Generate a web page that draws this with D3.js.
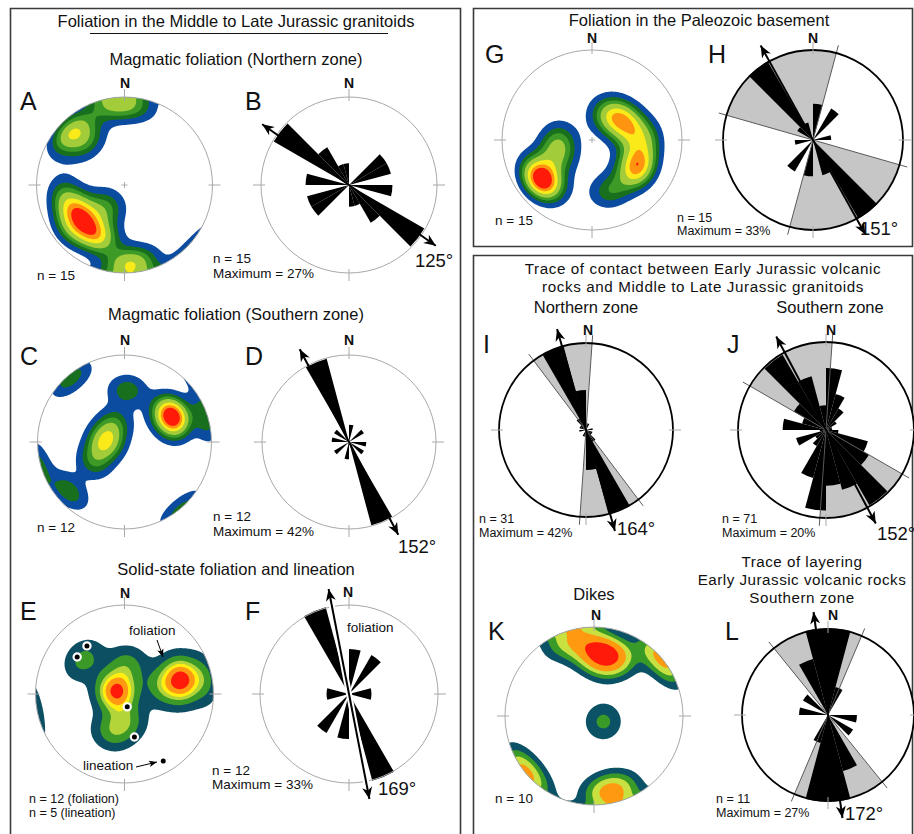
<!DOCTYPE html>
<html><head><meta charset="utf-8">
<script src="https://cdn.jsdelivr.net/npm/d3@7"></script>
<style>
body{margin:0;background:#fff}
svg{display:block;font-family:"Liberation Sans",Arial,Helvetica,sans-serif}
</style></head><body>
<svg id="fig" width="914" height="834"></svg>
<script>
// ---------------- data ----------------
// Rose-diagram bin starts (degrees, 15° bins)
const binStarts = [0,15,30,45,60,75,90,105,120,135,150,165,180,195,210,225,240,255,270,285,300,315,330,345];

// Rose counts per bin (bidirectional strike data)
const roseB = [0,0,0,2,2,0,2,0,4,2,1,1, 0,0,0,2,2,0,2,0,4,2,1,1];
const roseD = [1,0,0,1,0,0,1,0,1,0,5,0, 1,0,0,1,0,0,1,0,1,0,5,0];
const roseF = [2,0,2,0,0,1,1,0,0,0,4,0, 2,0,2,0,0,1,1,0,0,0,4,0];
const roseH = [2,0,2,0,0,1,0,0,0,5,2,0, 2,0,2,0,0,1,0,0,1,5,1,0];
const roseI = [1,1,0,0,0,1,0,1,1,2,13,6, 1,1,0,0,0,1,0,1,1,2,13,6];
const roseJ = [10,6,4,2,1,1,2,7,8,14,10,9, 13,8,3,2,5,1,7,4,6,14,9,4];
const roseL = [3,1,0,0,0,0,1,0,1,0,2,3, 3,1,0,0,0,0,1,0,1,0,2,3];

// Sample sizes, maximum petal (%), mean direction (°)
const roseN    = {B:15, D:12, F:12, H:15, I:31, J:71, L:11};
const roseMax  = {B:27, D:42, F:33, H:33, I:42, J:20, L:27};
const roseMean = {B:125, D:152, F:169, H:151, I:164, J:152, L:172};
// Shaded range sectors [from, to] (° clockwise), mirrored through the centre
const sectorH = [286, 15];
const sectorI = [323, 4];
const sectorJ = [300, 4];
const sectorL = [321, 23];

// Poles to foliation / dikes [trend, plunge] (lower hemisphere)
const polesA = [[319,17],[318,34],[310,15],[350,10],[5,12],[225,37],[236,42],[243,38],[258,30],[210,38],[219,64],[231,21],[206,32],[179,11],[172,15]];
const polesC = [[62,40],[65,38],[59,41],[61,35],[73,4],[275,71],[265,73],[329,71],[238,56],[3,40],[320,4],[228,16]];
const polesE = [[76,35],[78,38],[74,31],[78,54],[79,11],[288,82],[270,84],[299,80],[5,63],[310,40],[198,53],[176,65]];
const lineationE = [[308,33],[322,32],[168,78],[167,49],[150,14]];
const polesG = [[232,30],[229,32],[233,25],[234,33],[246,55],[268,60],[32,63],[48,59],[62,56],[78,52],[90,40],[120,41],[116,46],[125,38],[160,40]];
const polesK = [[12,32],[9,37],[16,28],[355,22],[340,12],[50,2],[230,2],[166,18],[169,14],[121,80]];

// Contour levels (kernel density) and fills
const levelsStd = [0.35,0.75,1.1,1.5,2.1,2.6,3.05];
const colorsStd = ['#0b4ba0','#18701f','#3d9a26','#a2cc3a','#fbea1a','#ff9410','#ff1a0a'];
const levelsE = [0.3,0.8,1.35,1.75,2.15,2.75];
const colorsE = ['#0c4f63','#3b9a27','#b3d53a','#ffee10','#ff9812','#ff1a0a'];
const levelsK = [0.5,0.9,1.3,1.75,2.5];
const colorsK = ['#0c5266','#3a9a28','#c8e040','#ff9a10','#ff1a0a'];

// ---------------- drawing ----------------
const svg = d3.select('#fig');
const rad = d => d * Math.PI / 180;
const defs = svg.append('defs');

defs.append('marker').attr('id','head').attr('viewBox','-13 -6 14 12')
  .attr('refX',0).attr('refY',0).attr('markerWidth',14).attr('markerHeight',12)
  .attr('markerUnits','userSpaceOnUse').attr('orient','auto-start-reverse')
  .append('path').attr('d','M0,0 L-12,-5 L-8.5,0 L-12,5 Z').attr('fill','#000');
defs.append('marker').attr('id','headSmall').attr('viewBox','-9 -4 10 8')
  .attr('refX',0).attr('refY',0).attr('markerWidth',10).attr('markerHeight',8)
  .attr('markerUnits','userSpaceOnUse').attr('orient','auto')
  .append('path').attr('d','M0,0 L-8,-3.2 L-6,0 L-8,3.2 Z').attr('fill','#000');

// frames
const frame = svg.append('g').attr('fill','none').attr('stroke','#3a3a3a').attr('stroke-width',1.6);
frame.append('path').attr('d','M10.5,840 V8.5 H460.5 V840');
frame.append('path').attr('d','M473.5,246.5 V8.5 H912.5 V246.5 Z');
frame.append('path').attr('d','M473.5,840 V255.5 H912.5 V840');

function dirVec(trend, plunge){
  const t = rad(trend), p = rad(plunge);
  return [Math.cos(p)*Math.sin(t), Math.cos(p)*Math.cos(t), Math.sin(p)];
}
// equal-area (Schmidt) net: unit-disk position -> direction cosines
function unproject(x, y){
  const r = Math.hypot(x, y);
  const th = 2*Math.asin(Math.min(1, r/Math.SQRT2));
  const tr = Math.atan2(x, -y);
  return [Math.sin(th)*Math.sin(tr), Math.sin(th)*Math.cos(tr), Math.cos(th)];
}
function project(trend, plunge){
  const r = Math.SQRT2*Math.sin(rad(90-plunge)/2), t = rad(trend);
  return [r*Math.sin(t), -r*Math.cos(t)];
}

function ticks(g, cx, cy, R, color){
  [0,90,180,270].forEach(a => {
    const s = Math.sin(rad(a)), c = -Math.cos(rad(a));
    g.append('line').attr('x1',cx+s*(R-4)).attr('y1',cy+c*(R-4))
      .attr('x2',cx+s*(R+8)).attr('y2',cy+c*(R+8))
      .attr('stroke',color).attr('stroke-width',1);
  });
}

let clipId = 0;
function drawNet(cx, cy, R, poles, levels, colors, kappa){
  const g = svg.append('g');
  const N = 161, ext = 1.06;
  const pv = poles.map(p => dirVec(p[0], p[1]));
  const vals = new Float64Array(N*N);
  for (let j=0;j<N;j++) for (let i=0;i<N;i++){
    const u = unproject(-ext + 2*ext*i/(N-1), -ext + 2*ext*j/(N-1));
    let s = 0;
    for (const v of pv){ const d = Math.abs(u[0]*v[0]+u[1]*v[1]+u[2]*v[2]); s += Math.exp(kappa*(d-1)); }
    vals[j*N+i] = s;
  }
  const cont = d3.contours().size([N,N]).thresholds(levels)(vals);
  const tf = d3.geoTransform({point(gx, gy){
    this.stream.point(cx + R*(-ext + 2*ext*(gx-0.5)/(N-1)), cy + R*(-ext + 2*ext*(gy-0.5)/(N-1)));
  }});
  const path = d3.geoPath(tf);
  const id = 'clip' + (clipId++);
  defs.append('clipPath').attr('id', id).append('circle').attr('cx',cx).attr('cy',cy).attr('r',R);
  g.append('circle').attr('cx',cx).attr('cy',cy).attr('r',R).attr('fill','#fff');
  g.append('path').attr('d',`M${cx-3},${cy}H${cx+3}M${cx},${cy-3}V${cy+3}`).attr('stroke','#999').attr('stroke-width',0.8);
  g.append('g').attr('clip-path',`url(#${id})`).selectAll('path').data(cont).join('path')
    .attr('d', path).attr('fill', (d,i) => colors[i]).attr('stroke','none');
  g.append('circle').attr('cx',cx).attr('cy',cy).attr('r',R).attr('fill','none').attr('stroke','#a8a8a8').attr('stroke-width',1);
  ticks(g, cx, cy, R, '#a8a8a8');
  return g;
}

function drawRose(key, cx, cy, R, counts, sector, bold, halo){
  const g = svg.append('g').attr('transform',`translate(${cx},${cy})`);
  const n = roseN[key], maxPct = roseMax[key], mean = roseMean[key];
  const r = d3.scaleLinear().domain([0, maxPct]).range([0, R]);
  g.append('circle').attr('r',R).attr('fill','#fff');
  if (sector){
    const a0 = sector[0], a1 = sector[1] < sector[0] ? sector[1] + 360 : sector[1];
    const arcG = d3.arc().innerRadius(0).outerRadius(R);
    [0,180].forEach(off => g.append('path')
      .attr('d', arcG({startAngle: rad(a0+off), endAngle: rad(a1+off)})).attr('fill','#c6c6c6'));
  }
  const petal = d3.arc().innerRadius(0);
  g.selectAll('path.petal').data(binStarts.map((b,i) => ({b, c: counts[i]})).filter(d => d.c > 0))
    .join('path').attr('class','petal')
    .attr('d', d => petal({outerRadius: r(d.c / n * 100), startAngle: rad(d.b), endAngle: rad(d.b + 15)}))
    .attr('fill','#000');
  if (sector){
    [sector[0], sector[1]].forEach(a => {
      const s = Math.sin(rad(a)), c = -Math.cos(rad(a));
      g.append('line').attr('x1',-s*(R+8)).attr('y1',-c*(R+8)).attr('x2',s*(R+8)).attr('y2',c*(R+8))
        .attr('stroke','#5a5a5a').attr('stroke-width',1);
    });
  }
  g.append('circle').attr('r',R).attr('fill','none')
    .attr('stroke', bold ? '#000' : '#a8a8a8').attr('stroke-width', bold ? 1.8 : 1);
  ticks(g, 0, 0, R, '#a8a8a8');
  const L = R + 18, s = Math.sin(rad(mean)), c = -Math.cos(rad(mean));
  if (halo){
    g.append('line').attr('x1',-s*(L-4)).attr('y1',-c*(L-4)).attr('x2',s*(L-4)).attr('y2',c*(L-4))
      .attr('stroke','#fff').attr('stroke-width',6);
  }
  g.append('line').attr('x1',-s*L).attr('y1',-c*L).attr('x2',s*L).attr('y2',c*L)
    .attr('stroke','#000').attr('stroke-width',2)
    .attr('marker-start','url(#head)').attr('marker-end','url(#head)');
  return g;
}

// stereonets
drawNet(124.5, 185, 88, polesA, levelsStd, colorsStd, 24);
drawNet(124.5, 442, 87, polesC, levelsStd, colorsStd, 26);
drawNet(124.5, 694, 89, polesE, levelsE, colorsE, 24);
drawNet(592, 140, 90, polesG, levelsStd, colorsStd, 24);
drawNet(594, 716, 89, polesK, levelsK, colorsK, 18);

// lineations on E
lineationE.forEach(([t,p]) => {
  const [x,y] = project(t,p);
  svg.append('circle').attr('cx',124.5 + 89*x).attr('cy',694 + 89*y).attr('r',3.6)
    .attr('fill','#000').attr('stroke','#fff').attr('stroke-width',2.2);
});

// roses
drawRose('B', 349, 185, 88, roseB, null, false, false);
drawRose('D', 349, 442, 87, roseD, null, false, false);
drawRose('F', 349, 694, 89, roseF, null, false, true);
drawRose('H', 813, 140, 90, roseH, sectorH, true, false);
drawRose('I', 586, 430, 87, roseI, sectorI, true, false);
drawRose('J', 826, 430, 88, roseJ, sectorJ, true, false);
drawRose('L', 828, 715, 86, roseL, sectorL, true, false);

// text
function txt(x, y, s, size, anchor, weight, spacing){
  const t = svg.append('text').attr('x',x).attr('y',y).attr('font-size',size)
    .attr('text-anchor',anchor || 'start').attr('font-weight',weight || 'normal')
    .attr('fill','#111').text(s);
  if (spacing) t.attr('letter-spacing', spacing);
}
const tt = 16.5, tm = 15.2;
txt(236, 27, 'Foliation in the Middle to Late Jurassic granitoids', tt, 'middle');
svg.append('line').attr('x1',90).attr('x2',388).attr('y1',33.5).attr('y2',33.5).attr('stroke','#111').attr('stroke-width',1.2);
txt(236, 65, 'Magmatic foliation (Northern zone)', tt, 'middle');
txt(236, 320, 'Magmatic foliation (Southern zone)', tt, 'middle');
txt(236, 575, 'Solid-state foliation and lineation', tt, 'middle');
txt(699, 26, 'Foliation in the Paleozoic basement', tt, 'middle');
txt(703, 274, 'Trace of contact between Early Jurassic volcanic', tm, 'middle', null, 0.6);
txt(703, 292, 'rocks and Middle to Late Jurassic granitoids', tm, 'middle', null, 0.6);
txt(586, 313, 'Northern zone', tt, 'middle');
txt(830, 313, 'Southern zone', tt, 'middle');
txt(594, 600, 'Dikes', tt, 'middle');
txt(802, 567, 'Trace of layering', tm, 'middle', null, 0.5);
txt(802, 585, 'Early Jurassic volcanic rocks', tm, 'middle', null, 0.5);
txt(802, 603, 'Southern zone', tm, 'middle', null, 0.5);

// north labels
[[125,88],[349,88],[125,345],[349,345],[125,598],[348,597],[592,43],[813,43],[588,335],[831,335],[596,620],[833,620]]
  .forEach(([x,y]) => txt(x, y, 'N', 14, 'middle', 'bold'));

// panel letters
[['A',20,110],['B',245,110],['C',20,365],['D',245,365],['E',20,620],['F',245,620],
 ['G',485,63],['H',708,63],['I',483,353],['J',727,353],['K',488,640],['L',725,640]]
  .forEach(([s,x,y]) => txt(x, y, s, 25));

// statistics
const st = 13.5, st2 = 12.5;
txt(37, 280, 'n = 15', st);
txt(213, 263, 'n = 15', st); txt(213, 278, 'Maximum = 27%', st);
txt(37, 532, 'n = 12', st);
txt(213, 521, 'n = 12', st); txt(213, 536, 'Maximum = 42%', st);
txt(29, 803, 'n = 12 (foliation)', st2); txt(29, 817, 'n = 5 (lineation)', st2);
txt(212, 775, 'n = 12', st); txt(212, 789, 'Maximum = 33%', st);
txt(495, 225, 'n = 15', st);
txt(677, 222, 'n = 15', st2); txt(677, 235, 'Maximum = 33%', st2);
txt(479, 523, 'n = 31', st2); txt(479, 536.5, 'Maximum = 42%', st2);
txt(722, 523, 'n = 71', st2); txt(722, 536.5, 'Maximum = 20%', st2);
txt(495, 803, 'n = 10', st);
txt(716, 803, 'n = 11', st2); txt(716, 816.5, 'Maximum = 27%', st2);

// mean directions
const dg = 18.5;
txt(415, 267, roseMean.B + '°', dg);
txt(398, 553, roseMean.D + '°', dg);
txt(378, 795, roseMean.F + '°', dg);
txt(860, 235, roseMean.H + '°', dg);
txt(617, 535, roseMean.I + '°', dg);
txt(877, 540, roseMean.J + '°', dg);
txt(845, 820, roseMean.L + '°', dg);

// annotations in E and F
txt(129, 635, 'foliation', 13.5);
svg.append('line').attr('x1',157).attr('y1',640).attr('x2',163).attr('y2',657)
  .attr('stroke','#000').attr('stroke-width',1).attr('marker-end','url(#headSmall)');
txt(83, 770, 'lineation', 13.5);
svg.append('line').attr('x1',136).attr('y1',767).attr('x2',157).attr('y2',762)
  .attr('stroke','#000').attr('stroke-width',1).attr('marker-end','url(#headSmall)');
txt(347, 632, 'foliation', 13.5);
</script>
</body></html>
